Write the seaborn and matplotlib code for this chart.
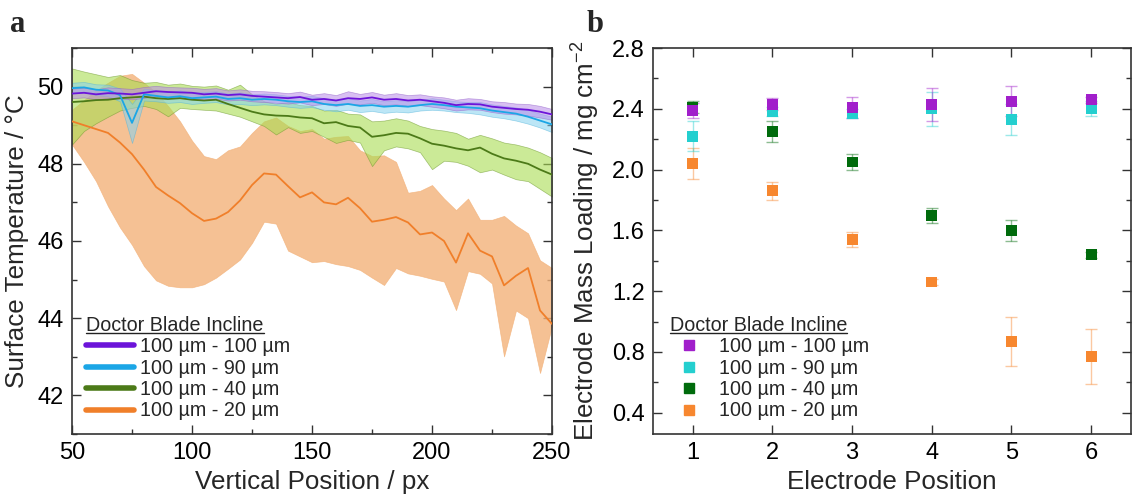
import matplotlib
matplotlib.use('Agg')
import matplotlib.pyplot as plt
import seaborn as sns
import pandas as pd
from matplotlib.lines import Line2D
from matplotlib.ticker import MultipleLocator, FormatStrFormatter

# ---- panel a: surface temperature along the coating (mean and spread) ----
position = list(range(50, 251, 5))

p_mean = [49.82, 49.84, 49.80, 49.83, 49.82, 49.80, 49.84, 49.88, 49.86, 49.85,
          49.84, 49.80, 49.82, 49.78, 49.80, 49.76, 49.74, 49.72, 49.70, 49.73,
          49.66, 49.68, 49.64, 49.70, 49.68, 49.72, 49.66, 49.68, 49.64, 49.66,
          49.62, 49.58, 49.52, 49.55, 49.54, 49.48, 49.45, 49.42, 49.40, 49.35,
          49.28]
p_hi = [49.95, 49.97, 49.93, 49.98, 49.96, 49.94, 49.99, 50.02, 49.99, 49.98,
        49.97, 49.94, 49.96, 49.90, 49.93, 49.89, 49.88, 49.86, 49.83, 49.87,
        49.79, 49.83, 49.78, 49.88, 49.81, 49.86, 49.79, 49.83, 49.78, 49.80,
        49.75, 49.72, 49.66, 49.70, 49.68, 49.62, 49.60, 49.56, 49.55, 49.50,
        49.42]
p_lo = [49.70, 49.72, 49.67, 49.70, 49.69, 49.67, 49.71, 49.75, 49.73, 49.72,
        49.70, 49.66, 49.69, 49.64, 49.66, 49.62, 49.60, 49.58, 49.56, 49.59,
        49.52, 49.55, 49.50, 49.56, 49.54, 49.58, 49.52, 49.54, 49.50, 49.52,
        49.48, 49.44, 49.38, 49.41, 49.40, 49.34, 49.30, 49.28, 49.25, 49.20,
        49.14]

c_mean = [49.96, 49.98, 49.92, 49.90, 49.78, 49.06, 49.80, 49.76, 49.72, 49.75,
          49.70, 49.72, 49.74, 49.68, 49.70, 49.66, 49.68, 49.66, 49.62, 49.60,
          49.62, 49.55, 49.52, 49.55, 49.50, 49.52, 49.48, 49.50, 49.48, 49.52,
          49.55, 49.52, 49.48, 49.46, 49.44, 49.38, 49.34, 49.30, 49.22, 49.12,
          49.02]
c_hi = [50.10, 50.12, 50.06, 50.05, 49.95, 49.55, 49.95, 49.90, 49.86, 49.90,
        49.84, 49.86, 49.88, 49.82, 49.85, 49.80, 49.82, 49.80, 49.76, 49.74,
        49.76, 49.70, 49.66, 49.70, 49.64, 49.68, 49.62, 49.65, 49.62, 49.66,
        49.70, 49.66, 49.62, 49.60, 49.60, 49.54, 49.50, 49.46, 49.40, 49.30,
        49.22]
c_lo = [49.82, 49.85, 49.78, 49.75, 49.62, 48.54, 49.64, 49.62, 49.58, 49.60,
        49.55, 49.58, 49.60, 49.54, 49.55, 49.52, 49.54, 49.52, 49.48, 49.45,
        49.47, 49.40, 49.36, 49.40, 49.34, 49.37, 49.32, 49.35, 49.33, 49.38,
        49.40, 49.38, 49.34, 49.32, 49.28, 49.22, 49.18, 49.12, 49.04, 48.94,
        48.82]

g_mean = [49.60, 49.62, 49.65, 49.66, 49.70, 49.72, 49.74, 49.70, 49.68, 49.70,
          49.66, 49.64, 49.66, 49.55, 49.45, 49.35, 49.28, 49.25, 49.24, 49.20,
          49.18, 49.05, 49.08, 48.98, 48.94, 48.70, 48.74, 48.80, 48.78, 48.66,
          48.52, 48.47, 48.40, 48.35, 48.42, 48.26, 48.14, 48.08, 48.00, 47.85,
          47.72]
g_hi = [50.47, 50.39, 50.32, 50.25, 50.30, 50.17, 50.10, 50.12, 50.05, 50.08,
        50.02, 50.00, 50.03, 49.92, 50.05, 49.80, 49.62, 49.55, 49.60, 49.52,
        49.50, 49.38, 49.40, 49.30, 49.28, 49.10, 49.12, 49.18, 49.12, 48.98,
        48.90, 48.86, 48.80, 48.65, 48.75, 48.66, 48.55, 48.50, 48.42, 48.30,
        48.15]
g_lo = [48.50, 48.85, 49.05, 49.22, 49.38, 49.45, 49.50, 49.42, 49.23, 49.45,
        49.42, 49.40, 49.38, 49.30, 49.22, 49.10, 48.98, 48.76, 48.95, 48.80,
        48.85, 48.70, 48.54, 48.62, 48.55, 47.94, 48.35, 48.45, 48.40, 48.30,
        47.86, 48.08, 48.05, 47.95, 47.78, 47.85, 47.72, 47.60, 47.55, 47.35,
        47.15]

o_mean = [49.10, 49.00, 48.90, 48.80, 48.55, 48.25, 47.85, 47.40, 47.18, 46.98,
          46.72, 46.52, 46.58, 46.75, 47.05, 47.45, 47.75, 47.72, 47.42, 47.13,
          47.26, 47.00, 46.95, 47.12, 46.85, 46.50, 46.55, 46.62, 46.48, 46.17,
          46.22, 46.00, 45.44, 46.20, 45.75, 45.60, 44.85, 45.10, 45.30, 44.20,
          43.85]
o_hi = [49.40, 49.65, 49.90, 50.10, 50.28, 50.33, 50.10, 49.85, 49.50, 49.10,
        48.60, 48.20, 48.12, 48.35, 48.45, 48.80, 49.10, 49.20, 48.98, 48.85,
        48.90, 48.65, 48.70, 48.72, 48.35, 48.20, 48.22, 48.05, 47.25, 47.30,
        47.45, 47.10, 46.80, 47.10, 46.55, 46.55, 46.65, 46.40, 46.20, 45.50,
        45.30]
o_lo = [48.50, 48.05, 47.55, 46.90, 46.35, 45.90, 45.35, 44.98, 44.84, 44.80,
        44.80, 44.88, 45.05, 45.28, 45.52, 45.95, 46.50, 46.45, 45.75, 45.60,
        45.45, 45.48, 45.40, 45.35, 45.25, 45.05, 44.86, 45.30, 45.16, 45.10,
        45.02, 44.95, 44.21, 45.22, 45.15, 44.90, 43.01, 44.20, 44.00, 42.58,
        43.80]

# ---- panel b: mass loading per electrode ----
electrode = [1, 2, 3, 4, 5, 6]
load_100 = [2.39, 2.43, 2.41, 2.43, 2.45, 2.46]
err_100 = [0.05, 0.04, 0.07, 0.11, 0.10, 0.02]
load_90 = [2.22, 2.38, 2.37, 2.40, 2.33, 2.40]
err_90 = [0.10, 0.03, 0.03, 0.11, 0.10, 0.05]
load_40 = [2.41, 2.25, 2.05, 1.70, 1.60, 1.44]
err_40 = [0.04, 0.07, 0.05, 0.05, 0.07, 0.02]
load_20 = [2.04, 1.86, 1.54, 1.26, 0.87, 0.77]
err_20 = [0.10, 0.06, 0.05, 0.02, 0.16, 0.18]

labels = ['100 µm - 100 µm', '100 µm - 90 µm', '100 µm - 40 µm', '100 µm - 20 µm']
line_colors = ['#6C14D9', '#1BA6E6', '#4C7A18', '#F07F2A']
band_colors = ['#B98BE8', '#86D2F0', '#A9DC52', '#F3B27A']
band_edges = ['#8F5BC8', '#4FB3DA', '#6E9A2E', '#F3B27A']
band_alpha = [0.55, 0.55, 0.6, 0.8]
marker_colors = ['#A11FCB', '#24CFCF', '#006B0C', '#F7872F']

sns.set_theme(style='ticks')
plt.rcParams['font.family'] = ['Liberation Sans', 'DejaVu Sans']
plt.rcParams['mathtext.default'] = 'regular'

fig = plt.figure(figsize=(11.34, 4.97), dpi=100)
ax1 = fig.add_axes([0.0635, 0.1268, 0.4233, 0.7766])
ax2 = fig.add_axes([0.5758, 0.1268, 0.4215, 0.7766])

means = [p_mean, c_mean, g_mean, o_mean]
his = [p_hi, c_hi, g_hi, o_hi]
los = [p_lo, c_lo, g_lo, o_lo]

# bands first, orange at the back
for i in [3, 2, 1, 0]:
    ax1.fill_between(position, los[i], his[i], facecolor=band_colors[i],
                     edgecolor=band_edges[i], linewidth=0.5, alpha=band_alpha[i], zorder=1)

rows = []
for i in [3, 2, 1, 0]:
    for x, y in zip(position, means[i]):
        rows.append({'pos': x, 'temp': y, 'incline': labels[i]})
df_a = pd.DataFrame(rows)
sns.lineplot(data=df_a, x='pos', y='temp', hue='incline', hue_order=labels[::-1],
             palette=line_colors[::-1], linewidth=1.3, legend=False, ax=ax1,
             estimator=None, zorder=3)

ax1.set_xlim(50, 250)
ax1.set_ylim(41, 51)
ax1.xaxis.set_major_locator(MultipleLocator(50))
ax1.xaxis.set_minor_locator(MultipleLocator(25))
ax1.yaxis.set_major_locator(MultipleLocator(2))
ax1.yaxis.set_minor_locator(MultipleLocator(1))
ax1.set_xlabel('Vertical Position / px', fontsize=18.7, labelpad=4)
ax1.set_ylabel('Surface Temperature / °C', fontsize=18.7, labelpad=6)

handles_a = [Line2D([], [], color=c, lw=4) for c in line_colors]
leg_a = ax1.legend(handles_a, labels, title='Doctor Blade Incline', loc='lower left',
                   bbox_to_anchor=(0.03, 0.035), frameon=False, fontsize=14.2,
                   title_fontsize=14.2, handlelength=2.4, handletextpad=0.3,
                   labelspacing=0.12, borderpad=0, borderaxespad=0, alignment='left')

# ---- panel b ----
rows = []
loads = [load_100, load_90, load_40, load_20]
errs = [err_100, err_90, err_40, err_20]
for i in [3, 2, 1, 0]:
    ax2.errorbar(electrode, loads[i], yerr=errs[i], fmt='none', ecolor=marker_colors[i],
                 alpha=0.45, elinewidth=1, capsize=4, capthick=1, zorder=2)
    for x, y in zip(electrode, loads[i]):
        rows.append({'pos': x, 'load': y, 'incline': labels[i]})
df_b = pd.DataFrame(rows)
sns.scatterplot(data=df_b, x='pos', y='load', hue='incline', hue_order=labels,
                palette=marker_colors, marker='s', s=62, linewidth=0, legend=False,
                ax=ax2, zorder=3)

ax2.set_xlim(0.5, 6.5)
ax2.set_ylim(0.26, 2.8)
ax2.xaxis.set_major_locator(MultipleLocator(1))
ax2.yaxis.set_major_locator(MultipleLocator(0.4))
ax2.yaxis.set_minor_locator(MultipleLocator(0.2))
ax2.yaxis.set_major_formatter(FormatStrFormatter('%.1f'))
ax2.set_xlabel('Electrode Position', fontsize=18.7, labelpad=4)
ax2.set_ylabel('Electrode Mass Loading / mg cm$^{-2}$', fontsize=18.7, labelpad=7)

handles_b = [Line2D([], [], color=c, marker='s', ls='none', markersize=6.5) for c in marker_colors]
leg_b = ax2.legend(handles_b, labels, title='Doctor Blade Incline', loc='lower left',
                   bbox_to_anchor=(0.035, 0.035), frameon=False, fontsize=14.2,
                   title_fontsize=14.2, handlelength=2.0, handletextpad=0.5,
                   labelspacing=0.12, borderpad=0, borderaxespad=0, alignment='left')

for ax in [ax1, ax2]:
    for s in ax.spines.values():
        s.set_color('#333333')
        s.set_linewidth(1.2)
    ax.tick_params(which='both', direction='in', top=True, right=True, color='#333333',
                   labelsize=17, labelcolor='#000000', pad=6)
    ax.tick_params(which='major', length=6.5, width=1)
    ax.tick_params(which='minor', length=3.5, width=1)

fig.text(10 / 1134, 1 - 32 / 497, 'a', fontsize=22, fontweight='bold',
         family='Liberation Serif', va='baseline', ha='left')
fig.text(587 / 1134, 1 - 32 / 497, 'b', fontsize=22, fontweight='bold',
         family='Liberation Serif', va='baseline', ha='left')

# underline the legend titles
fig.canvas.draw()
renderer = fig.canvas.get_renderer()
inv = fig.transFigure.inverted()
for leg in [leg_a, leg_b]:
    bb = leg.get_title().get_window_extent(renderer)
    (x0, y0), (x1, y1) = inv.transform([[bb.x0, bb.y0], [bb.x1, bb.y1]])
    yl = y0 + 2.0 / 497
    fig.add_artist(Line2D([x0, x1], [yl, yl], transform=fig.transFigure,
                          color='#222222', lw=1))

fig.savefig('out.png', dpi=100)
